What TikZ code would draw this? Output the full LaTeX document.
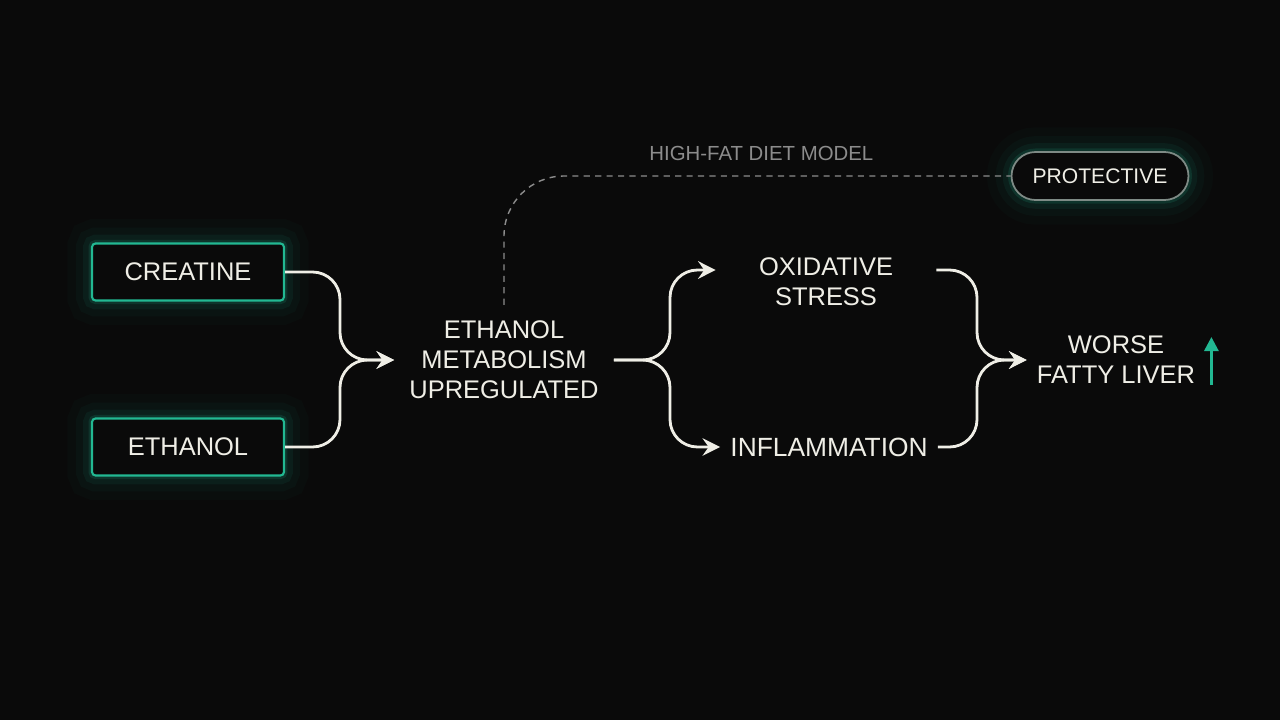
\documentclass[tikz,border=0pt]{standalone}
\usepackage{fontspec}
\setmainfont{Liberation Sans}
\usetikzlibrary{arrows.meta,positioning}
\definecolor{nightbg}{HTML}{0A0A0A}
\definecolor{glowteal}{HTML}{22B892}
\definecolor{cream}{HTML}{EFEEE6}
\definecolor{dashgray}{HTML}{8C8C8C}
\definecolor{pillgray}{HTML}{7E8A85}

\begin{document}
\begin{tikzpicture}[x=0.02cm,y=-0.02cm,
		glow/.style={preaction={draw=glowteal,line width=28pt,opacity=0.025},
			preaction={draw=glowteal,line width=18pt,opacity=0.04},
			preaction={draw=glowteal,line width=10pt,opacity=0.07},
			preaction={draw=glowteal,line width=4pt,opacity=0.14}},
		inbox/.style={draw=glowteal,line width=1.2pt,fill=nightbg,rounded corners=2pt,
			minimum width=3.84cm,minimum height=1.14cm,text=cream,
			font=\fontsize{14.5}{17}\selectfont,glow},
		pill/.style={draw=pillgray,line width=1pt,fill=nightbg,rounded corners=0.48cm,
			minimum width=3.54cm,minimum height=0.96cm,text=cream,
			font=\fontsize{12}{14}\selectfont,glow},
		stage/.style={text=cream,align=center,font=\fontsize{14.5}{17}\selectfont,inner ysep=2pt},
		flow/.style={draw=cream,line width=1.6pt,rounded corners=0.55cm,
			-{Stealth[length=10pt,width=10pt,inset=3.5pt]}}]
	\fill[nightbg] (0,0) rectangle (1280,720);
	\useasboundingbox (0,0) rectangle (1280,720);
	% inputs
	\node[inbox] (creatine) at (188,272) {CREATINE};
	\node[inbox] (ethanol) at (188,447) {ETHANOL};
	% stages
	\node[stage,inner xsep=0.3cm] (metab) at (504,360) {ETHANOL\\METABOLISM\\UPREGULATED};
	\node[stage,inner xsep=0.86cm] (oxid) at (826,282) {OXIDATIVE\\STRESS};
	\node[stage,inner xsep=0.2cm,font=\fontsize{15}{17}\selectfont] (inflam) at (829,447) {INFLAMMATION};
	\node[stage,inner xsep=0.2cm] (worse) at (1116,360) {WORSE\\FATTY LIVER};
	\node[pill] (protect) at (1100,176) {PROTECTIVE};
	\coordinate (jin) at (340,360);
	\coordinate (jout) at (670,360);
	\coordinate (jmerge) at (977,360);
	% connectors
	\draw[flow] (creatine.east) -| (jin) -- (metab.west);
	\draw[flow] (ethanol.east) -| (jin) -- (metab.west);
	\draw[flow] (metab.east) -- (jout) |- ([yshift=0.24cm]oxid.west);
	\draw[flow] (metab.east) -- (jout) |- (inflam.west);
	\draw[flow] ([yshift=0.24cm]oxid.east) -| (jmerge) -- (worse.west);
	\draw[flow] (inflam.east) -| (jmerge) -- (worse.west);
	\draw[dashgray,line width=0.8pt,dash pattern=on 3.5pt off 3pt,rounded corners=1.2cm,shorten <=0.25cm]
		(metab.north) |- (protect.west)
		node[pos=0.754,above=0.3cm,inner sep=0,text=dashgray,font=\fontsize{11.6}{14}\selectfont] (hfd) {HIGH-FAT DIET MODEL};
	\draw[glowteal,line width=1.6pt,-{Triangle[length=8pt,width=8pt]}]
		([xshift=0.12cm,yshift=-0.5cm]worse.east) -- ([xshift=0.12cm,yshift=0.46cm]worse.east);
\end{tikzpicture}
\end{document}
